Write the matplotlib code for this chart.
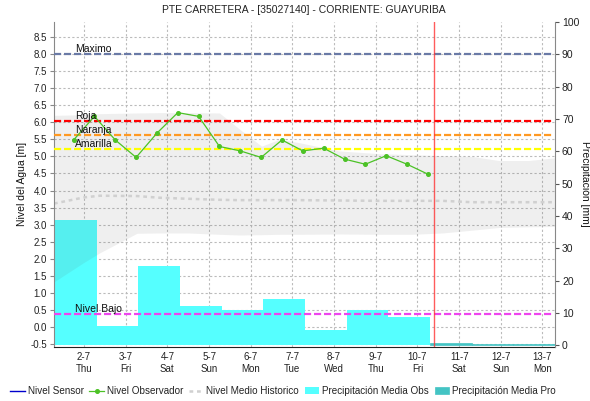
import numpy as np
import matplotlib
matplotlib.use('Agg')
from matplotlib import pyplot as plt

plt.rcParams['font.family'] = ['Liberation Sans', 'DejaVu Sans']

# x axis in days, 0 = 2-7
dias = ['2-7\nThu', '3-7\nFri', '4-7\nSat', '5-7\nSun', '6-7\nMon', '7-7\nTue',
        '8-7\nWed', '9-7\nThu', '10-7\nFri', '11-7\nSat', '12-7\nSun', '13-7\nMon']

# observer readings, 06:00 and 18:00 from 2-7
nivel_observador = [5.48, 6.17, 5.48, 4.97, 5.68, 6.28, 6.17, 5.29, 5.16,
                    4.97, 5.48, 5.16, 5.24, 4.92, 4.77, 5.02, 4.77, 4.48]
nivel_sensor = []

# historic envelope and mean level
hist_t = [-0.72, 0.0, 0.38, 1.27, 1.82, 2.5, 3.25, 3.73, 4.26, 4.69, 5.17,
          6.12, 7.08, 7.87, 8.6, 9.3, 9.95, 10.67, 11.3]
hist_max = [6.20, 6.22, 6.25, 6.27, 6.28, 6.28, 6.27, 5.80, 5.30, 5.50, 5.40,
            5.16, 5.08, 5.05, 5.02, 5.00, 4.88, 4.88, 4.96]
hist_min = [1.33, 1.90, 2.18, 2.75, 2.76, 2.76, 2.72, 2.70, 2.71, 2.72, 2.72,
            2.73, 2.72, 2.72, 2.76, 2.84, 2.92, 2.94, 2.95]
hist_medio = [3.62, 3.80, 3.85, 3.84, 3.79, 3.76, 3.73, 3.72, 3.72, 3.72, 3.72,
              3.71, 3.70, 3.70, 3.70, 3.66, 3.66, 3.66, 3.66]

# daily rainfall [mm]
precip_obs = [38.8, 6.0, 24.5, 12.2, 10.9, 14.3, 4.7, 10.9, 8.8]
precip_pro = [0.6, 0.3, 0.3]

# alert levels [m]
umbral_nombre = ['Maximo', 'Roja', 'Naranja', 'Amarilla', 'Nivel Bajo']
umbral_valor = [8.0, 6.03, 5.62, 5.21, 0.39]
umbral_color = ['#6a7aa6', '#ff0000', '#ff9922', '#ffff00', '#ee44ee']

ahora = 8.4

fig = plt.figure(figsize=(5.9, 4.01), dpi=100)
ax = fig.add_axes([54 / 590, 1 - 346.5 / 401, 501 / 590, 324.5 / 401])
ax2 = ax.twinx()

ax.set_xlim(-0.72, 11.3)
ax.set_ylim(-0.56, 8.93)
ax2.set_ylim(-0.37, 100)

ax.set_axisbelow(True)
ax.grid(True, color='#bbbbbb', linestyle=(0, (2, 2)), linewidth=0.8)

# rain bars use the precipitation axis scale
x_obs = np.arange(len(precip_obs)) - 0.2
x_pro = np.arange(len(precip_obs), len(precip_obs) + len(precip_pro)) - 0.2
ax.bar(x_obs, precip_obs, width=1.0, color='#55ffff', linewidth=0,
       transform=ax2.transData, zorder=1, label='Precipitación Media Obs')
ax.bar(x_pro, precip_pro, width=1.0, color='#44c4c4', edgecolor='#44c4c4',
       linewidth=0.5, transform=ax2.transData, zorder=1,
       label='Precipitación Media Pro')

ax.fill_between(hist_t, hist_min, hist_max, color='#555555', alpha=0.09,
                linewidth=0, zorder=1.5)

ax.plot([], nivel_sensor, color='#0000cc', lw=1, label='Nivel Sensor')
t_obs = np.arange(len(nivel_observador)) * 0.5 - 0.25
ax.plot(t_obs, nivel_observador, color='#4cc226', lw=0.9, marker='o', ms=2.6,
        zorder=5, label='Nivel Observador')
ax.plot(hist_t, hist_medio, color='#d0d0d0', lw=1.8, linestyle=(0, (1.5, 1.5)),
        zorder=2, label='Nivel Medio Historico')

for nombre, valor, color in zip(umbral_nombre, umbral_valor, umbral_color):
    ax.axhline(valor, xmin=0, xmax=0.995, color=color, lw=1.6,
               linestyle=(0, (3.2, 1.3)), zorder=3)
    ax.text(-0.22, valor, nombre, fontsize=7.5, color='#111111',
            ha='left', va='bottom', zorder=6)

ax.axvline(ahora, color='#ff3333', lw=1, alpha=0.8, zorder=4)

ax.set_xticks(range(len(dias)))
ax.set_xticklabels(dias)
ax.set_yticks(np.arange(-0.5, 9.0, 0.5))
ax.set_yticklabels(['%.1f' % v for v in np.arange(-0.5, 9.0, 0.5)])
ax2.set_yticks(range(0, 101, 10))

ax.tick_params(axis='x', length=0, pad=4, labelsize=7, labelcolor='#222222')
ax.tick_params(axis='y', length=3, color='#888888', labelsize=7,
               labelcolor='#222222', pad=2)
ax2.tick_params(axis='y', length=3, color='#555555', labelsize=7.5,
                labelcolor='#222222', pad=2)

for a in (ax, ax2):
    a.spines['top'].set_visible(False)
ax.spines['right'].set_visible(False)
ax2.spines['left'].set_visible(False)
ax2.spines['bottom'].set_visible(False)
ax.spines['left'].set_color('#888888')
ax2.spines['right'].set_color('#888888')
ax.spines['bottom'].set_color('#222222')
ax.spines['bottom'].set_linestyle((0, (1, 1)))

fig.text(304 / 590, 1 - 10 / 401, 'PTE CARRETERA - [35027140] - CORRIENTE: GUAYURIBA',
         ha='center', va='center', fontsize=7.5, color='#222222')
fig.text(22 / 590, 1 - 184 / 401, 'Nivel del Agua [m]', rotation=90,
         ha='center', va='center', fontsize=7.5, color='#111111')
fig.text(585 / 590, 1 - 184 / 401, 'Precipitación [mm]', rotation=270,
         ha='center', va='center', fontsize=7.5, color='#111111')

handles, labels = ax.get_legend_handles_labels()
orden = ['Nivel Sensor', 'Nivel Observador', 'Nivel Medio Historico',
         'Precipitación Media Obs', 'Precipitación Media Pro']
h = [handles[labels.index(n)] for n in orden]
fig.legend(h, orden, loc='center left', bbox_to_anchor=(8 / 590, 1 - 391 / 401),
           ncol=5, frameon=False, fontsize=7.1, handlelength=1.5,
           handletextpad=0.3, columnspacing=0.55, labelcolor='#222222',
           borderpad=0.1, borderaxespad=0.1)

fig.savefig('out.png', dpi=100)
plt.close(fig)
